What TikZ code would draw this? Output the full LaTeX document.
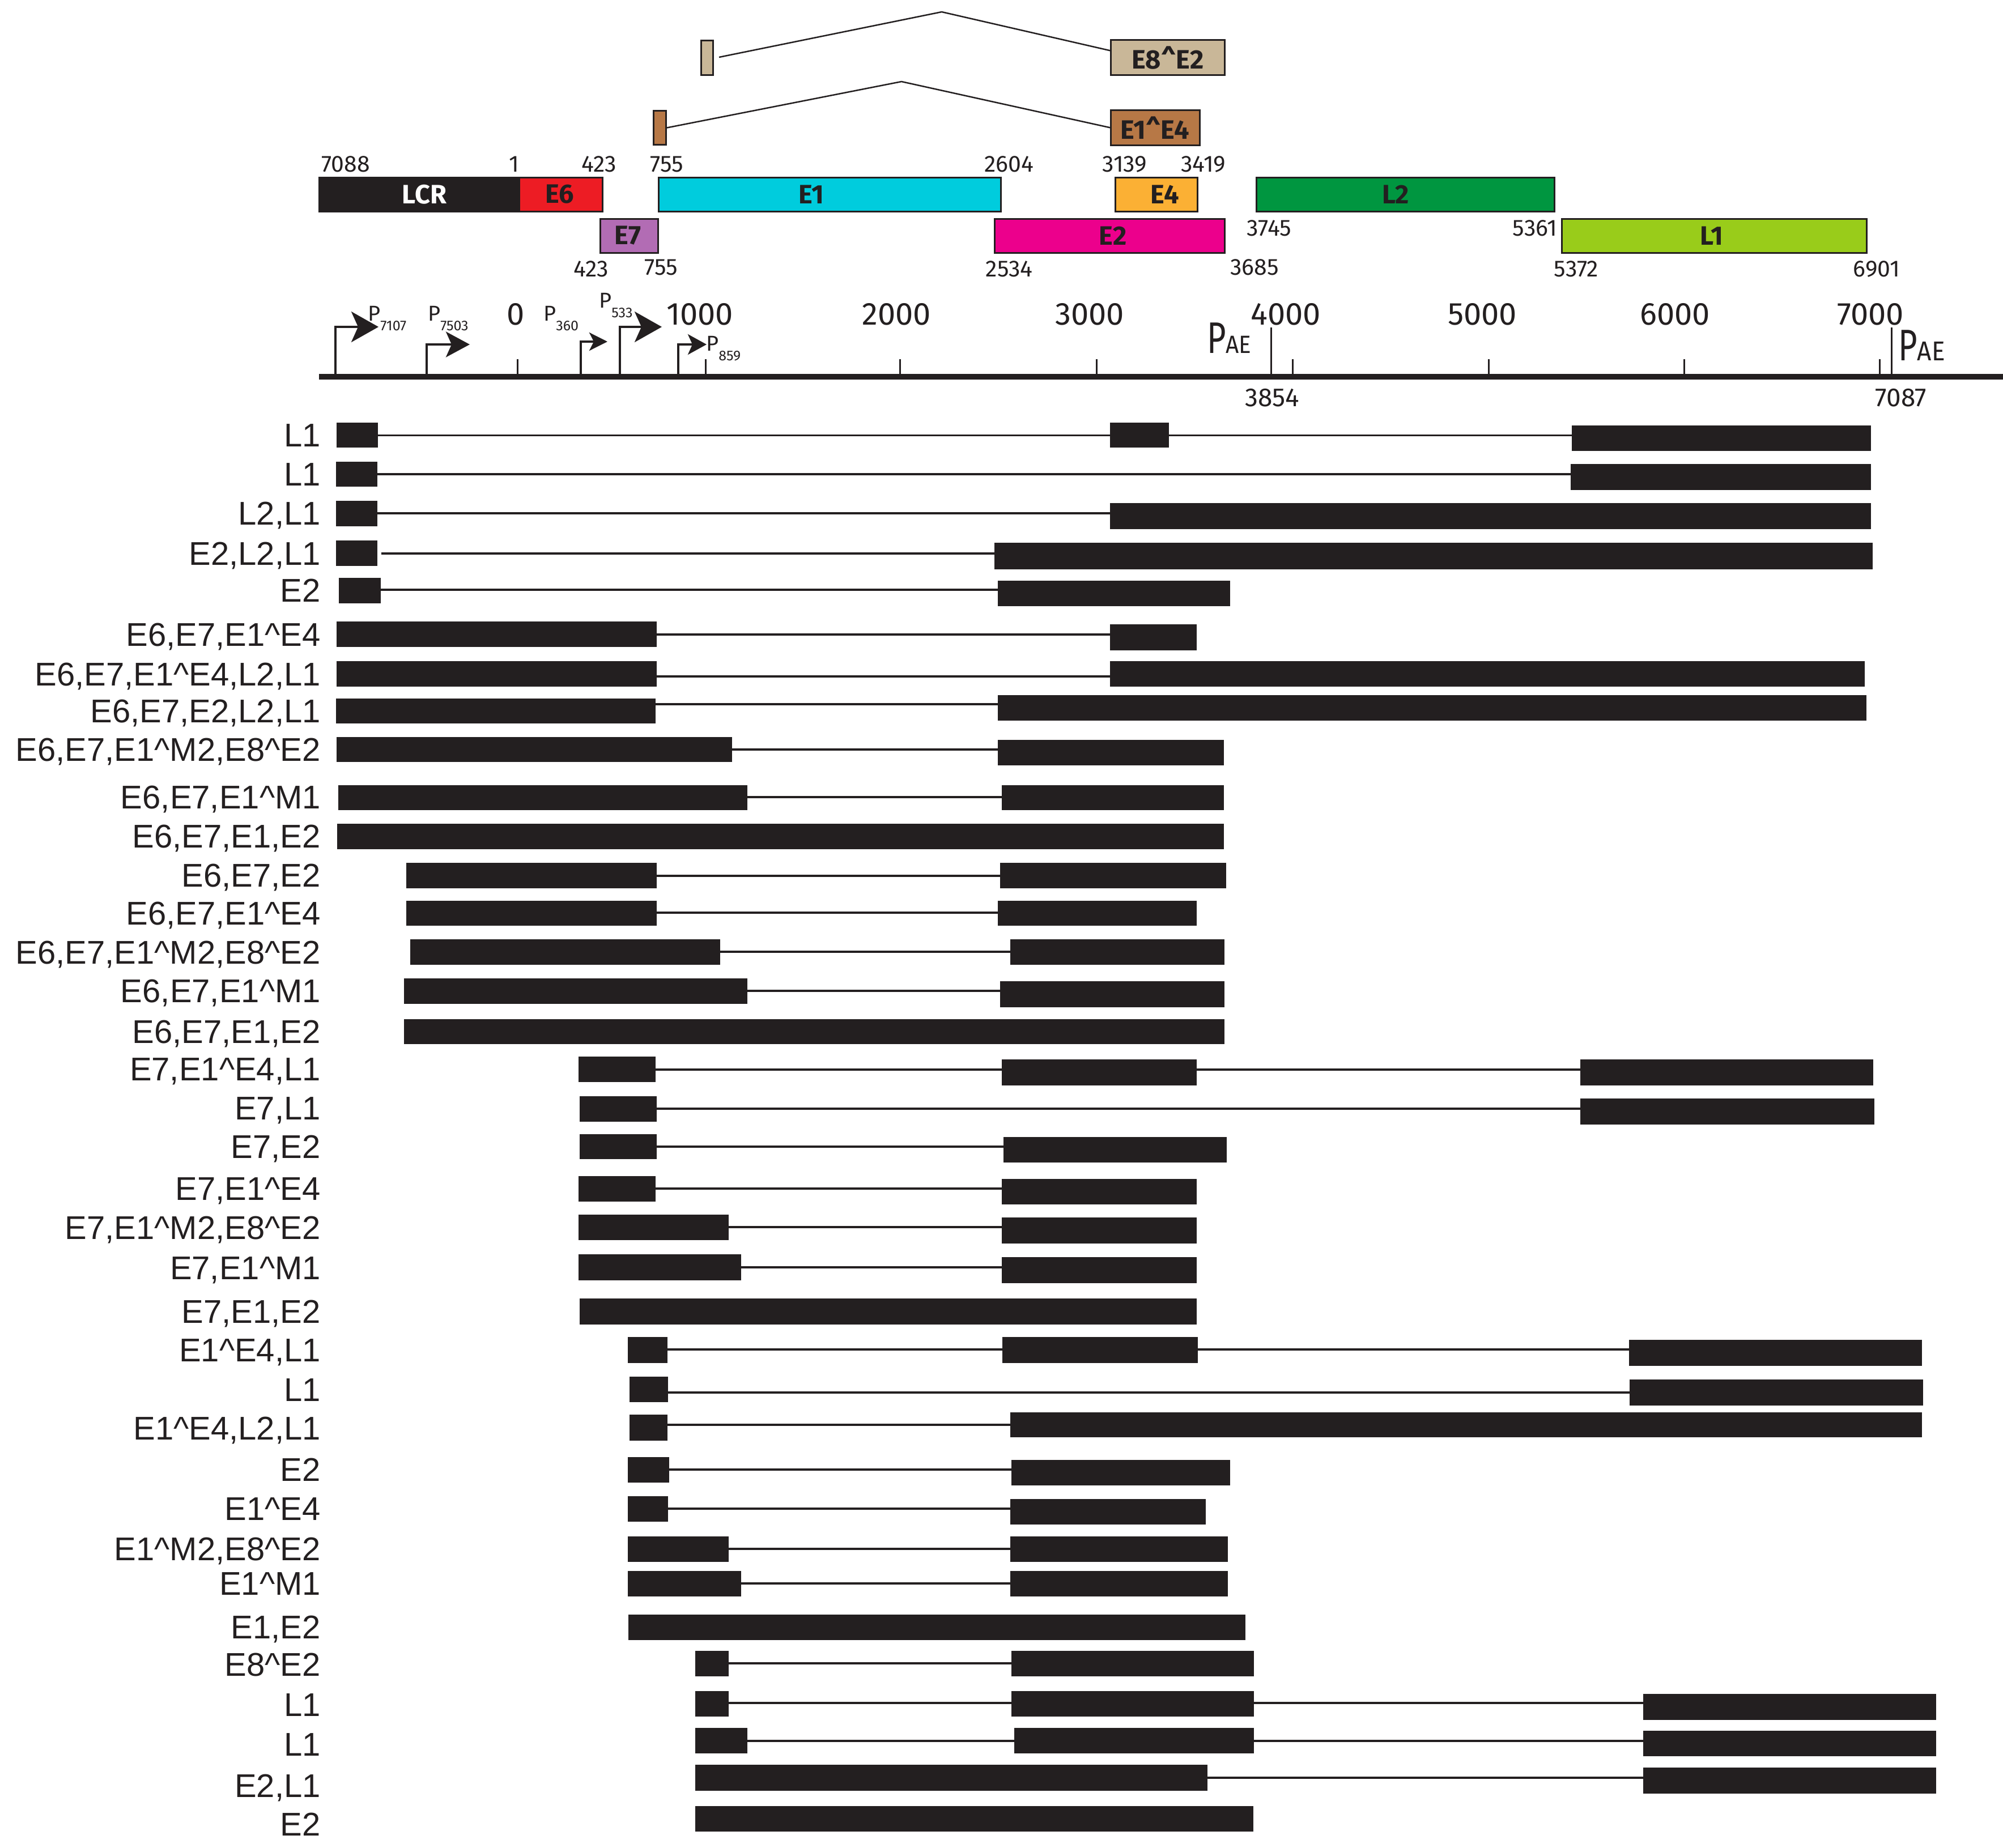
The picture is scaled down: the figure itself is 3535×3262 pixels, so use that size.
\documentclass[tikz,border=0pt]{standalone}
\usepackage{fontspec}
\setmainfont{Liberation Sans}
\newfontfamily\myr{Fira Sans}
\usetikzlibrary{arrows.meta}
\definecolor{blk}{RGB}{35,31,32}
\definecolor{cE6}{RGB}{237,28,36}
\definecolor{cE1}{RGB}{0,204,221}
\definecolor{cE4}{RGB}{251,176,52}
\definecolor{cL2}{RGB}{0,150,64}
\definecolor{cE7}{RGB}{178,108,180}
\definecolor{cE2}{RGB}{236,0,140}
\definecolor{cL1}{RGB}{153,204,26}
\definecolor{cE8}{RGB}{201,183,152}
\definecolor{cE14}{RGB}{183,120,70}
\tikzset{
  lbl/.style={anchor=base east, inner sep=0pt, text=blk, font=\fontsize{58}{60}\selectfont},
  ex/.style={fill=blk},
  intr/.style={draw=blk, line width=3.5pt},
  gbox/.style={draw=blk, line width=3pt},
  gtxt/.style={inner sep=0pt, text=blk, font=\myr\bfseries\fontsize{47}{47}\selectfont},
  num/.style={anchor=base, inner sep=0pt, text=blk, font=\myr\fontsize{41}{41}\selectfont},
  axn/.style={anchor=base, inner sep=0pt, text=blk, font=\myr\fontsize{56}{56}\selectfont},
  tick/.style={draw=blk, line width=3pt},
  splice/.style={draw=blk, line width=2.5pt},
  prom/.style={draw=blk, line width=4pt},
  plab/.style={anchor=base west, inner sep=0pt, text=blk, font=\myr\fontsize{38}{38}\selectfont},
  paet/.style={anchor=base west, inner sep=0pt, text=blk, font=\myr\fontsize{78}{78}\selectfont},
}
\newcommand\sbx[1]{\raisebox{-17pt}{\fontsize{25}{25}\selectfont #1}}
\newcommand\ex[4]{\fill[ex] (#1,#2) rectangle (#3,#4);}
\newcommand\intr[3]{\draw[intr] (#1,#3) -- (#2,#3);}
\newcommand\rlab[3]{\node[lbl] (#1) at (566,#2+20.5) {#3};}
\begin{document}
\begin{tikzpicture}[x=1pt,y=-1pt]
\useasboundingbox (0,0) rectangle (3535,3262);
% ---------------- splice schemes at the top
\draw[gbox, fill=cE8] (1237,72) rectangle (1258,133);
\draw[gbox, fill=cE8] (1960,71) rectangle (2161,133);
\node[gtxt] (e8e2) at (2061,102) {E8\^{}E2};
\coordinate (e8a) at (1269,101);
\coordinate (e8p) at (1662,21);
\coordinate (e8b) at (1960,89.5);
\draw[splice] (e8a) -- (e8p) -- (e8b);
\draw[gbox, fill=cE14] (1153,196) rectangle (1175,255);
\draw[gbox, fill=cE14] (1960,195) rectangle (2117,256);
\node[gtxt] (e1e4) at (2038,225.5) {E1\^{}E4};
\coordinate (e1a) at (1177,225.5);
\coordinate (e1p) at (1591,144);
\coordinate (e1b) at (1960,225.5);
\draw[splice] (e1a) -- (e1p) -- (e1b);
% ---------------- genome map
\draw[gbox, fill=blk] (563,313) rectangle (916,373);
\node[gtxt, text=white] (lcr) at (749,343) {LCR};
\draw[gbox, fill=cE6] (916,313) rectangle (1063,373);
\node[gtxt] (e6) at (988,343) {E6};
\draw[gbox, fill=cE1] (1162,313) rectangle (1766,373);
\node[gtxt] (e1) at (1432,343) {E1};
\draw[gbox, fill=cE4] (1968,313) rectangle (2113,373);
\node[gtxt] (e4) at (2056,343) {E4};
\draw[gbox, fill=cL2] (2217,313) rectangle (2743,373);
\node[gtxt] (l2) at (2463,343) {L2};
\draw[gbox, fill=cE7] (1059,386) rectangle (1161,446);
\node[gtxt] (e7) at (1108,416) {E7};
\draw[gbox, fill=cE2] (1755,386) rectangle (2161,446);
\node[gtxt] (e2) at (1964,416) {E2};
\draw[gbox, fill=cL1] (2756,386) rectangle (3294,446);
\node[gtxt] (l1) at (3021,416) {L1};
% numbers
\node[num] (n7088) at (610,303) {7088};
\node[num] (n1) at (907,303) {1};
\node[num] (n423a) at (1057,303) {423};
\node[num] (n755a) at (1177,303) {755};
\node[num] (n2604) at (1781,303) {2604};
\node[num] (n3139) at (1985,303) {3139};
\node[num] (n3419) at (2124,303) {3419};
\node[num] (n423b) at (1043,488) {423};
\node[num] (n755b) at (1167,485) {755};
\node[num] (n2534) at (1781,488) {2534};
\node[num] (n3685) at (2214,485) {3685};
\node[num] (n3745) at (2240,416) {3745};
\node[num] (n5361) at (2709,416) {5361};
\node[num] (n5372) at (2782,488) {5372};
\node[num] (n6901) at (3312,488) {6901};
% ---------------- axis
\draw[blk, line width=10pt] (563,665) -- (3535,665);
\foreach \x/\t/\c in {913/0/910,1245/1000/1235,1588/2000/1582,1935/3000/1923,2281/4000/2269,2627/5000/2616,2972/6000/2956,3317/7000/3301}{
  \draw[tick] (\x,634) -- (\x,661);
  \node[axn] (ax\t) at (\c,573) {\t};
}
\draw[tick] (2243,578) -- (2243,662);
\draw[tick] (3338,578) -- (3338,662);
\node[paet] (pae1) at (2130,623) {\scalebox{0.74}[1]{P}{\fontsize{44}{44}\selectfont\scalebox{0.92}[1]{AE}}};
\node[paet] (pae2) at (3350,636) {\scalebox{0.74}[1]{P}{\fontsize{48}{48}\selectfont\scalebox{0.92}[1]{AE}}};
\node[num, font=\myr\fontsize{46}{46}\selectfont] (n3854) at (2245,717) {3854};
\node[num, font=\myr\fontsize{46}{46}\selectfont] (n7087) at (3355,717) {7087};
% promoters
\draw[prom, -{Stealth[length=48pt,width=54pt,inset=12pt]}] (592,662) |- (668,577);
\draw[prom, -{Stealth[length=42pt,width=45pt,inset=10pt]}] (753,662) |- (829,608);
\draw[prom, -{Stealth[length=32pt,width=32pt,inset=8pt]}] (1025,662) |- (1072,603);
\draw[prom, -{Stealth[length=48pt,width=54pt,inset=12pt]}] (1094,662) |- (1168,577);
\draw[prom, -{Stealth[length=33pt,width=36pt,inset=8pt]}] (1197,662) |- (1247,608);
\node[plab] (p7107) at (649,566) {P\sbx{7107}};
\node[plab] (p7503) at (755,566) {P\sbx{7503}};
\node[plab] (p360) at (959,566) {P\sbx{360}};
\node[plab] (p533) at (1057,543) {P\sbx{533}};
\node[plab] (p859) at (1246,619) {P\sbx{859}};
% ---------------- transcripts
% 1
\rlab{r1}{768}{L1}
\intr{667}{1959}{768.5}\intr{2063}{2774}{768.5}
\ex{594}{746}{667}{790}\ex{1959}{746}{2063}{790}\ex{2774}{751}{3302}{796}
% 2
\rlab{r2}{837}{L1}
\intr{666}{2772}{837}
\ex{593}{815}{666}{859}\ex{2772}{819}{3302}{865}
% 3
\rlab{r3}{906}{L2,L1}
\intr{666}{1959}{906}
\ex{593}{884}{666}{929}\ex{1959}{888}{3302}{934}
% 4
\rlab{r4}{977}{E2,L2,L1}
\intr{673}{1755}{977}
\ex{593}{954}{666}{999}\ex{1755}{958}{3305}{1005}
% 5
\rlab{r5}{1042}{E2}
\intr{672}{1761}{1041}
\ex{598}{1020}{672}{1065}\ex{1761}{1025}{2171}{1070}
% 6
\rlab{r6}{1120}{E6,E7,E1\^{}E4}
\intr{1159}{1959}{1120}
\ex{594}{1097}{1159}{1142}\ex{1959}{1102}{2112}{1148}
% 7
\rlab{r7}{1190}{E6,E7,E1\^{}E4,L2,L1}
\intr{1159}{1959}{1194}
\ex{594}{1167}{1159}{1212}\ex{1959}{1167}{3291}{1212}
% 8
\rlab{r8}{1255}{E6,E7,E2,L2,L1}
\intr{1157}{1761}{1243}
\ex{593}{1233}{1157}{1277}\ex{1761}{1227}{3294}{1272}
% 9
\rlab{r9}{1323}{E6,E7,E1\^{}M2,E8\^{}E2}
\intr{1292}{1761}{1323}
\ex{594}{1301}{1292}{1345}\ex{1761}{1306}{2160}{1351}
% 10
\rlab{r10}{1407}{E6,E7,E1\^{}M1}
\intr{1319}{1768}{1407}
\ex{597}{1386}{1319}{1430}\ex{1768}{1386}{2160}{1430}
% 11
\rlab{r11}{1476}{E6,E7,E1,E2}
\ex{595}{1454}{2160}{1499}
% 12
\rlab{r12}{1545}{E6,E7,E2}
\intr{1159}{1765}{1546}
\ex{717}{1523}{1159}{1568}\ex{1765}{1523}{2164}{1568}
% 13
\rlab{r13}{1612}{E6,E7,E1\^{}E4}
\intr{1159}{1761}{1611}
\ex{717}{1590}{1159}{1634}\ex{1761}{1590}{2112}{1634}
% 14
\rlab{r14}{1681}{E6,E7,E1\^{}M2,E8\^{}E2}
\intr{1271}{1783}{1680}
\ex{724}{1658}{1271}{1703}\ex{1783}{1658}{2161}{1703}
% 15
\rlab{r15}{1749}{E6,E7,E1\^{}M1}
\intr{1319}{1765}{1749}
\ex{713}{1727}{1319}{1772}\ex{1765}{1732}{2161}{1778}
% 16
\rlab{r16}{1821}{E6,E7,E1,E2}
\ex{713}{1799}{2161}{1843}
% 17
\rlab{r17}{1887}{E7,E1\^{}E4,L1}
\intr{1157}{1768}{1888}\intr{2112}{2789}{1888}
\ex{1021}{1865}{1157}{1910}\ex{1768}{1870}{2112}{1916}\ex{2789}{1870}{3306}{1916}
% 18
\rlab{r18}{1956}{E7,L1}
\intr{1159}{2789}{1957}
\ex{1023}{1935}{1159}{1980}\ex{2789}{1939}{3308}{1985}
% 19
\rlab{r19}{2024}{E7,E2}
\intr{1159}{1771}{2024}
\ex{1023}{2002}{1159}{2046}\ex{1771}{2007}{2165}{2052}
% 20
\rlab{r20}{2098}{E7,E1\^{}E4}
\intr{1157}{1768}{2098}
\ex{1021}{2076}{1157}{2121}\ex{1768}{2081}{2112}{2126}
% 21
\rlab{r21}{2167}{E7,E1\^{}M2,E8\^{}E2}
\intr{1286}{1768}{2166}
\ex{1021}{2144}{1286}{2189}\ex{1768}{2149}{2112}{2195}
% 22
\rlab{r22}{2238}{E7,E1\^{}M1}
\intr{1308}{1768}{2237}
\ex{1021}{2214}{1308}{2260}\ex{1768}{2219}{2112}{2265}
% 23
\rlab{r23}{2315}{E7,E1,E2}
\ex{1023}{2292}{2112}{2338}
% 24
\rlab{r24}{2383}{E1\^{}E4,L1}
\intr{1178}{1769}{2382}\intr{2114}{2875}{2382}
\ex{1108}{2360}{1178}{2406}\ex{1769}{2360}{2114}{2406}\ex{2875}{2365}{3392}{2411}
% 25
\rlab{r25}{2453}{L1}
\intr{1179}{2876}{2458}
\ex{1111}{2430}{1179}{2475}\ex{2876}{2435}{3394}{2481}
% 26
\rlab{r26}{2521}{E1\^{}E4,L2,L1}
\intr{1178}{1783}{2515}
\ex{1111}{2497}{1178}{2543}\ex{1783}{2493}{3392}{2537}
% 27
\rlab{r27}{2594}{E2}
\intr{1181}{1785}{2594}
\ex{1108}{2572}{1181}{2617}\ex{1785}{2577}{2171}{2622}
% 28
\rlab{r28}{2663}{E1\^{}E4}
\intr{1179}{1783}{2663}
\ex{1108}{2641}{1179}{2686}\ex{1783}{2646}{2128}{2691}
% 29
\rlab{r29}{2734}{E1\^{}M2,E8\^{}E2}
\intr{1286}{1783}{2734}
\ex{1108}{2712}{1286}{2757}\ex{1783}{2712}{2167}{2757}
% 30
\rlab{r30}{2795}{E1\^{}M1}
\intr{1308}{1783}{2795}
\ex{1108}{2773}{1308}{2818}\ex{1783}{2773}{2167}{2818}
% 31
\rlab{r31}{2872}{E1,E2}
\ex{1109}{2850}{2198}{2895}
% 32
\rlab{r32}{2938}{E8\^{}E2}
\intr{1286}{1785}{2936}
\ex{1227}{2914}{1286}{2959}\ex{1785}{2914}{2213}{2959}
% 33
\rlab{r33}{3009}{L1}
\intr{1286}{1785}{3006}\intr{2213}{2900}{3006}
\ex{1227}{2985}{1286}{3030}\ex{1785}{2985}{2213}{3030}\ex{2900}{2990}{3417}{3036}
% 34
\rlab{r34}{3079}{L1}
\intr{1319}{1790}{3073}\intr{2213}{2900}{3073}
\ex{1227}{3050}{1319}{3095}\ex{1790}{3050}{2213}{3095}\ex{2900}{3055}{3417}{3100}
% 35
\rlab{r35}{3152}{E2,L1}
\intr{2131}{2900}{3138}
\ex{1227}{3115}{2131}{3161}\ex{2900}{3120}{3417}{3166}
% 36
\rlab{r36}{3220}{E2}
\ex{1227}{3188}{2212}{3233}
\end{tikzpicture}
\end{document}
